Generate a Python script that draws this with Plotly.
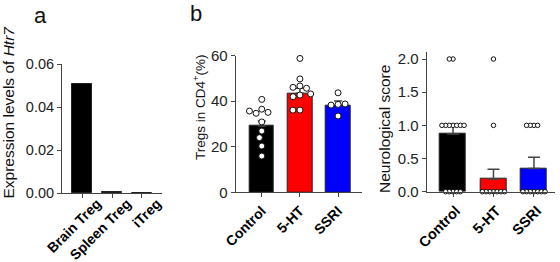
import plotly.graph_objects as go

# ---------------- data ----------------
a_categories = ["Brain Treg", "Spleen Treg", "iTreg"]
a_values = [0.0506, 0.0003, 0.0001]

b_categories = ["Control", "5-HT", "SSRI"]
b_means = [29.1, 43.5, 38.2]
b_sem = [2.2, 2.2, 1.9]
b_control = [40.8, 36.5, 34.7, 35.1, 35.7, 30.9, 26.9, 24.0, 20.3, 15.9]
b_5ht = [58.8, 49.8, 46.7, 46.1, 45.7, 42.7, 42.0, 43.2, 36.1, 36.1]
b_ssri = [43.7, 38.6, 38.3, 38.8, 33.5]

c_categories = ["Control", "5-HT", "SSRI"]
c_means = [0.87, 0.19, 0.35]
c_sem = [0.13, 0.15, 0.17]
c_control = [2, 2, 1, 1, 1, 1, 1, 1, 1, 0, 0, 0, 0, 0]
c_5ht = [2, 1, 0, 0, 0, 0, 0, 0, 0]
c_ssri = [1, 1, 1, 1, 0, 0, 0, 0, 0, 0, 0]

colors = ["#000000", "#ff0000", "#0000ff"]
FONT = "Arial, Liberation Sans, sans-serif"
AX = "#444444"
W, H = 560, 262


def swarm(values, px_per_unit, px_per_cat, diam):
    """Deterministic beeswarm: horizontal offsets (category units)."""
    placed, offs = [], []
    for v in values:
        y = v * px_per_unit
        cands = [0.0]
        for xj, yj in placed:
            dy = y - yj
            if abs(dy) < diam:
                dx = (diam ** 2 - dy ** 2) ** 0.5
                cands += [xj - dx, xj + dx]
        cands.sort(key=abs)
        chosen = cands[-1]
        for c in cands:
            if all((c - xj) ** 2 + (y - yj) ** 2 >= diam ** 2 - 1e-6 for xj, yj in placed):
                chosen = c
                break
        placed.append((chosen, y))
        offs.append(chosen / px_per_cat)
    return offs


def dom_x(p0, p1):
    return [p0 / W, p1 / W]


def dom_y(ptop, pbot):
    return [1 - pbot / H, 1 - ptop / H]


fig = go.Figure()

# ---- panel a ----
fig.add_trace(go.Bar(x=[0, 1, 2], y=a_values, width=0.667, marker=dict(color="#000000", line=dict(color="#222", width=1)),
                     xaxis="x", yaxis="y", showlegend=False))

# ---- panel b ----
fig.add_trace(go.Bar(x=[0, 1, 2], y=b_means, width=0.645,
                     marker=dict(color=colors, line=dict(color="#222", width=1)),
                     error_y=dict(type="data", array=b_sem, arrayminus=[0, 0, 0], symmetric=False,
                                  color=AX, thickness=1.5, width=4),
                     xaxis="x2", yaxis="y2", showlegend=False))
b_pxu = 136.6 / 60.0
for i, pts in enumerate([b_control, b_5ht, b_ssri]):
    offs = swarm(pts, b_pxu, 38.0, 7.0)
    fig.add_trace(go.Scatter(x=[i + o for o in offs], y=pts, mode="markers",
                             marker=dict(size=6, color="white", line=dict(color="#111", width=1)),
                             xaxis="x2", yaxis="y2", showlegend=False, cliponaxis=False))

# ---- panel c ----
fig.add_trace(go.Bar(x=[0, 1, 2], y=c_means, width=0.65,
                     marker=dict(color=colors, line=dict(color="#222", width=1)),
                     error_y=dict(type="data", array=c_sem, arrayminus=[0, 0, 0], symmetric=False,
                                  color=AX, thickness=1.5, width=6),
                     xaxis="x3", yaxis="y3", showlegend=False))
c_pxu = 132.7 / 2.0
for i, pts in enumerate([c_control, c_5ht, c_ssri]):
    offs = swarm(pts, c_pxu, 40.5, 3.7)
    fig.add_trace(go.Scatter(x=[i + o for o in offs], y=pts, mode="markers",
                             marker=dict(size=4.5, color="white", line=dict(color="#111", width=1)),
                             xaxis="x3", yaxis="y3", showlegend=False, cliponaxis=False))

common_x = dict(showline=True, linecolor=AX, linewidth=1, ticks="outside", ticklen=4, tickcolor=AX,
                tickangle=-45, tickfont=dict(family=FONT, size=14, color="#000"), showgrid=False,
                zeroline=False, tickvals=[0, 1, 2], fixedrange=True, automargin=False)
common_y = dict(showline=True, linecolor=AX, linewidth=1, ticks="outside", ticklen=4, tickcolor=AX,
                tickfont=dict(family=FONT, size=15, color="#222"), showgrid=False, zeroline=False,
                fixedrange=True, automargin=False)

fig.update_layout(
    width=W, height=H, margin=dict(l=0, r=0, t=0, b=0, pad=0, autoexpand=False),
    paper_bgcolor="white", plot_bgcolor="white", bargap=0,
    xaxis=dict(common_x, domain=dom_x(62, 162), range=[-0.667, 2.667], anchor="y",
               ticktext=["<b>%s</b>" % c for c in a_categories],
               tickfont=dict(family=FONT, size=14, color="#000"), ticklabelshift=15, ticklabelstandoff=-8),
    yaxis=dict(common_y, domain=dom_y(64, 193), range=[0, 0.06], anchor="x",
               tickvals=[0, 0.02, 0.04, 0.06], tickformat=".2f", tickfont=dict(family=FONT, size=14.5, color="#222")),
    xaxis2=dict(common_x, domain=dom_x(235.7, 361.7), range=[-0.684, 2.62], anchor="y2",
                ticktext=["<b>%s</b>" % c for c in b_categories]),
    yaxis2=dict(common_y, domain=dom_y(55.7, 192.3), range=[0, 60], anchor="x2",
                tickvals=[0, 20, 40, 60]),
    xaxis3=dict(common_x, domain=dom_x(426.7, 555), range=[-0.65, 2.52], anchor="y3",
                ticktext=["<b>%s</b>" % c for c in c_categories],
                tickfont=dict(family=FONT, size=14.5, color="#000"), ticklabelshift=3),
    yaxis3=dict(common_y, domain=dom_y(51.7, 191.7), range=[0, 2.11], anchor="x3",
                tickvals=[0, 0.5, 1.0, 1.5, 2.0], tickformat=".1f"),
)

ann = [
    dict(text="a", x=40 / W, y=1 - 15 / H, font=dict(size=22)),
    dict(text="b", x=196 / W, y=1 - 14 / H, font=dict(size=22)),
    dict(text="Expression levels of <i>Htr7</i>", x=8 / W, y=1 - 112.5 / H, textangle=-90, font=dict(size=15.5)),
    dict(text="Tregs in CD4<sup>+</sup>(%)", x=199 / W, y=1 - 107 / H, textangle=-90, font=dict(size=13.5)),
    dict(text="Neurological score", x=384 / W, y=1 - 129 / H, textangle=-90, font=dict(size=15.5)),
]
for a in ann:
    f = dict(family=FONT, color="#111")
    f.update(a.pop("font"))
    fig.add_annotation(xref="paper", yref="paper", showarrow=False, xanchor="center", yanchor="middle",
                       font=f, **a)

fig.write_html("out.html", config={"displayModeBar": False},
               post_script="document.body.style.margin='0px';document.body.style.overflow='hidden';")
